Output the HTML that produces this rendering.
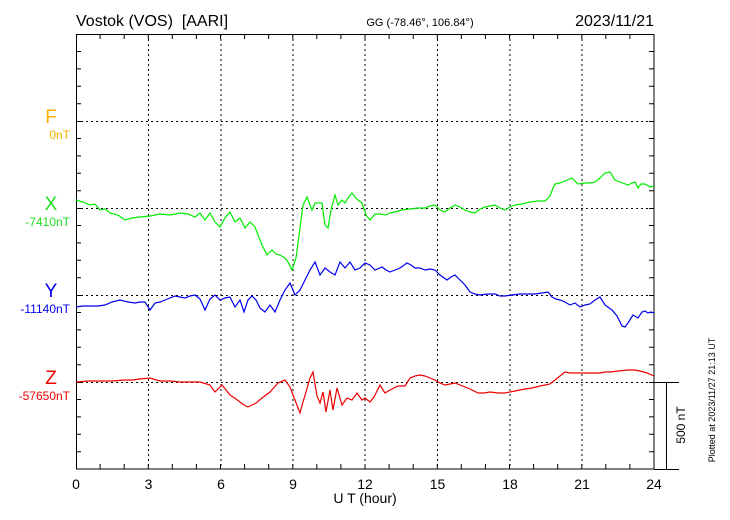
<!DOCTYPE html>
<html><head><style>body{margin:0;background:#fff}svg{display:block;font-family:"Liberation Sans",sans-serif}</style></head><body>
<svg width="730" height="520" viewBox="0 0 730 520">
<rect width="730" height="520" fill="#fff"/>
<g stroke="#000" stroke-width="1" stroke-dasharray="2,3" fill="none">
<line x1="148.5" y1="34" x2="148.5" y2="469"/><line x1="221" y1="34" x2="221" y2="469"/><line x1="293" y1="34" x2="293" y2="469"/><line x1="365" y1="34" x2="365" y2="469"/><line x1="437.5" y1="34" x2="437.5" y2="469"/><line x1="510" y1="34" x2="510" y2="469"/><line x1="582" y1="34" x2="582" y2="469"/>
<line x1="76" y1="121.5" x2="654" y2="121.5"/><line x1="76" y1="208.5" x2="654" y2="208.5"/><line x1="76" y1="295.5" x2="654" y2="295.5"/><line x1="76" y1="382.5" x2="654" y2="382.5"/>
</g>
<rect x="76.5" y="34.5" width="577.5" height="434.5" fill="none" stroke="#000"/>
<line x1="654" y1="469.5" x2="679" y2="469.5" stroke="#000"/>
<line x1="654" y1="382.5" x2="679" y2="382.5" stroke="#000"/>
<line x1="666.5" y1="382" x2="666.5" y2="469" stroke="#000"/>
<path stroke="#000" fill="none" d="M100.1 34v5M124.2 34v5M148.3 34v5M172.3 34v5M196.4 34v5M220.5 34v5M244.6 34v5M268.7 34v5M292.8 34v5M316.8 34v5M340.9 34v5M365 34v5M389.1 34v5M413.2 34v5M437.3 34v5M461.3 34v5M485.4 34v5M509.5 34v5M533.6 34v5M557.7 34v5M581.8 34v5M605.8 34v5M629.9 34v5
M100.1 469v-5M124.2 469v-5M148.3 469v-5M172.3 469v-5M196.4 469v-5M220.5 469v-5M244.6 469v-5M268.7 469v-5M292.8 469v-5M316.8 469v-5M340.9 469v-5M365 469v-5M389.1 469v-5M413.2 469v-5M437.3 469v-5M461.3 469v-5M485.4 469v-5M509.5 469v-5M533.6 469v-5M557.7 469v-5M581.8 469v-5M605.8 469v-5M629.9 469v-5
M76 51.5h5M76 68.9h5M76 86.3h5M76 103.7h5M76 121.5h5M76 138.5h5M76 155.9h5M76 173.3h5M76 190.7h5M76 208.5h5M76 225.5h5M76 242.9h5M76 260.3h5M76 277.7h5M76 295.5h5M76 312.5h5M76 329.9h5M76 347.3h5M76 364.7h5M76 382.5h5M76 399.5h5M76 416.9h5M76 434.3h5M76 451.7h5
M654 51.5h-5M654 68.9h-5M654 86.3h-5M654 103.7h-5M654 121.5h-5M654 138.5h-5M654 155.9h-5M654 173.3h-5M654 190.7h-5M654 208.5h-5M654 225.5h-5M654 242.9h-5M654 260.3h-5M654 277.7h-5M654 295.5h-5M654 312.5h-5M654 329.9h-5M654 347.3h-5M654 364.7h-5M654 382.5h-5M654 399.5h-5M654 416.9h-5M654 434.3h-5M654 451.7h-5"/>
<polyline fill="none" stroke="#00ee00" stroke-width="1.2" points="76,200 83,202 90,205 95,204 100,210 105,209 110,213 118,215 125,220 132,218 140,217 150,216 160,214 170,215 180,213 188,214 195,217 200,213 205,220 210,213 215,222 220,227 225,218 230,212 235,222 240,218 245,228 250,222 255,227 258,235 262,245 267,255 272,250 276,254 280,255 285,258 288,262 292,270 296,258 300,228 303,205 307,197 310,205 312,210 315,203 318,203 322,203 325,225 328,228 331,210 335,195 338,205 342,200 345,203 348,198 352,193 355,197 358,200 362,203 366,215 370,220 375,214 380,214 385,215 390,213 395,212 402,210 410,209 418,208 425,208 430,206 435,205 440,210 445,212 450,208 455,205 460,207 465,210 470,212 475,213 480,209 485,207 490,206 495,205 500,208 505,210 510,207 515,205 522,204 530,202 538,201 545,201 550,196 553,188 555,184 560,183 565,181 572,178 578,184 585,183 590,183 595,182 600,178 605,173 610,172 615,180 620,182 628,185 632,183 635,182 638,188 641,184 645,184 650,187 654,186"/>
<polyline fill="none" stroke="#0000ee" stroke-width="1.2" points="76,307 83,306 90,306 98,306 105,305 112,302 120,300 128,302 135,303 140,302 145,302 150,310 155,303 160,302 165,300 170,298 175,296 180,297 185,298 190,296 195,295 200,299 205,310 210,299 215,295 220,300 225,298 230,297 235,307 240,300 244,312 248,300 252,296 256,300 260,308 265,312 270,305 275,312 280,300 285,290 290,283 295,295 300,290 305,280 310,270 315,262 320,275 325,268 330,272 335,275 340,262 345,268 350,262 355,270 360,268 365,263 370,265 375,270 382,267 386,270 390,272 395,270 400,268 407,263 411,265 415,268 420,268 425,270 430,269 435,270 440,275 447,280 451,277 455,275 460,280 465,285 470,292 475,294 480,295 488,294 495,294 500,296 505,296 512,295 520,294 528,294 535,294 542,293 548,292 552,297 556,299 560,300 565,302 570,305 575,303 580,307 585,305 590,304 595,300 600,297 605,305 612,310 617,316 622,326 625,327 628,323 633,315 638,318 642,312 645,311 648,313 651,312 654,313"/>
<polyline fill="none" stroke="#ee0000" stroke-width="1.2" points="76,382 88,381 100,381 112,381 125,380 132,380 140,379 150,378 160,381 170,381 180,382 190,382 200,382 210,385 215,392 222,385 230,395 236,399 240,402 244,405 248,407 256,403 262,398 270,392 278,383 285,380 290,387 295,400 300,413 303,402 306,392 310,378 313,372 317,396 320,403 323,392 326,412 330,390 333,410 337,388 342,405 347,398 352,400 357,393 362,400 365,398 370,402 374,397 380,385 385,393 390,390 398,386 405,386 410,378 415,376 420,375 425,376 430,378 435,380 440,383 445,385 450,384 455,383 460,385 465,387 472,390 478,393 484,393 490,392 498,393 505,393 510,392 515,391 520,390 525,389 532,388 540,386 545,385 550,384 555,380 560,376 565,372 570,373 575,373 582,373 590,373 595,373 600,373 605,372 610,372 618,371 628,370 635,370 640,371 647,373 654,376"/>
<text x="76" y="26" font-size="16" xml:space="preserve">Vostok (VOS)  [AARI]</text>
<text x="420" y="26" font-size="11" text-anchor="middle">GG (-78.46°, 106.84°)</text>
<text x="654" y="26" font-size="16" text-anchor="end">2023/11/21</text>
<g font-size="19" text-anchor="middle"><text x="51" y="123" fill="#ffb000">F</text><text x="51" y="210" fill="#22dd22">X</text><text x="51" y="297" fill="#0000ee">Y</text><text x="51" y="384" fill="#ee0000">Z</text></g>
<g font-size="12" text-anchor="end"><text x="70" y="139" fill="#ffb000">0nT</text><text x="70" y="226" fill="#22dd22">-7410nT</text><text x="70" y="313" fill="#0000ee">-11140nT</text><text x="70" y="400" fill="#ee0000">-57650nT</text></g>
<g font-size="14" text-anchor="middle"><text x="76" y="489">0</text><text x="148.5" y="489">3</text><text x="221" y="489">6</text><text x="293" y="489">9</text><text x="365" y="489">12</text><text x="437.5" y="489">15</text><text x="510" y="489">18</text><text x="582" y="489">21</text><text x="654" y="489">24</text></g>
<text x="365" y="503" font-size="14" text-anchor="middle">U T (hour)</text>
<text transform="translate(685,425) rotate(-90)" font-size="12" text-anchor="middle">500 nT</text>
<text transform="translate(715,400) rotate(-90)" font-size="9" text-anchor="middle">Plotted at 2023/11/27 21:13 UT</text>
</svg>
</body></html>
